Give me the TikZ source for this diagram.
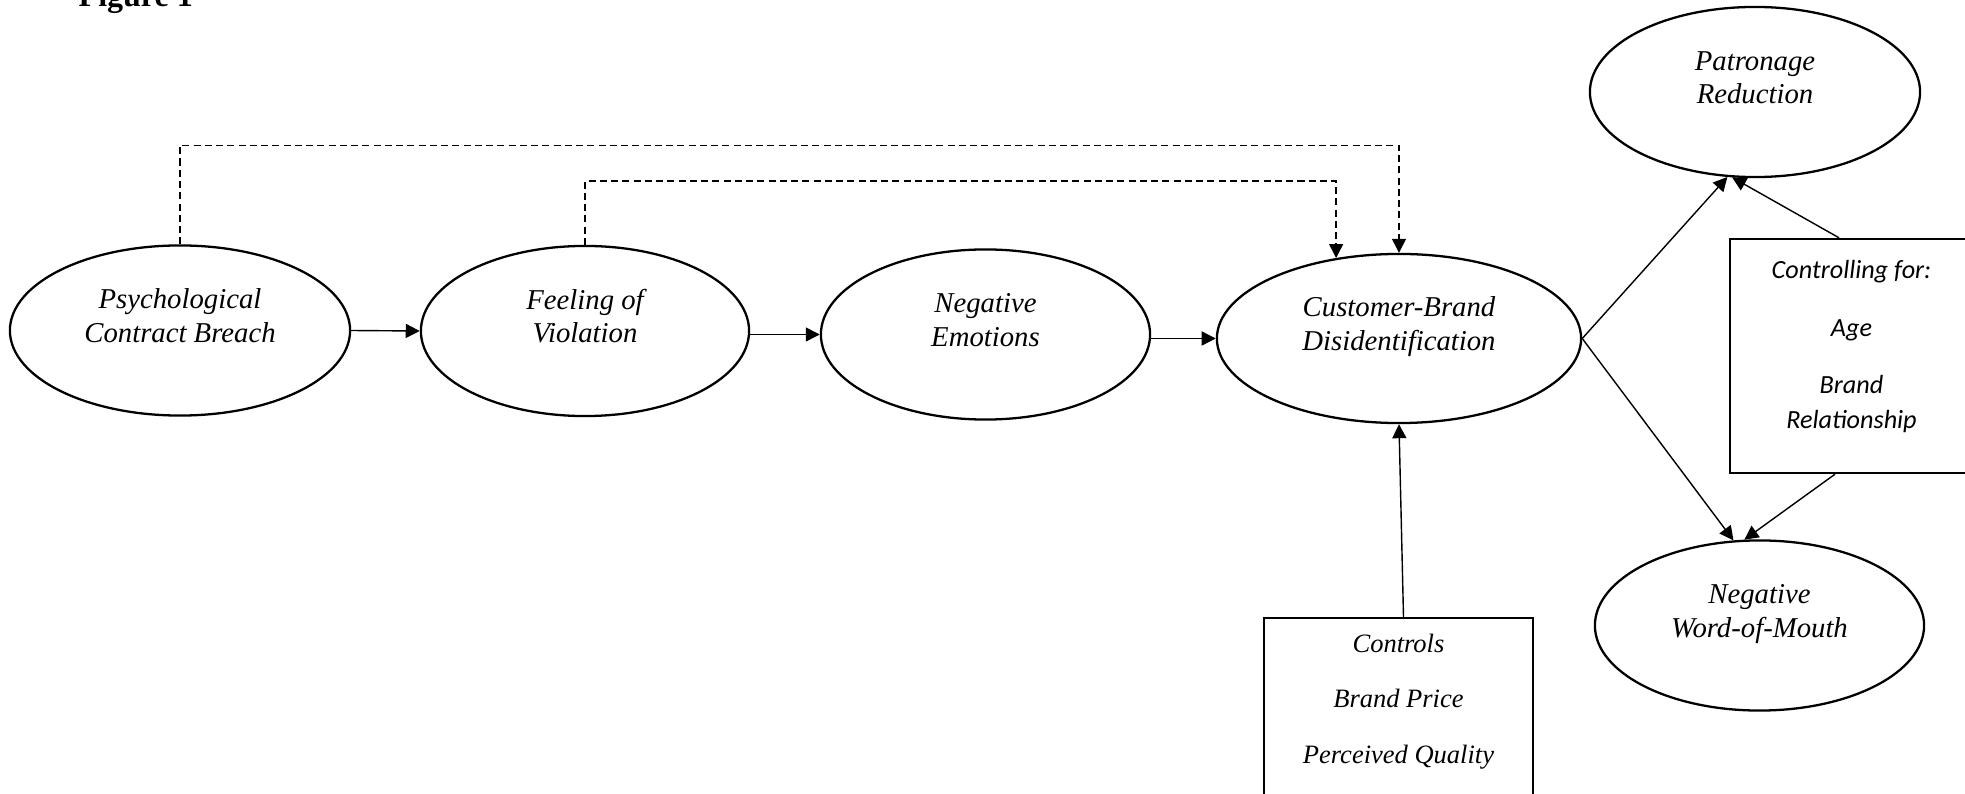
\documentclass[tikz,border=0pt]{standalone}
\usepackage{fontspec}
\setmainfont{Liberation Serif}
\newfontfamily\calibrifont{Carlito}
\usepackage{tikz}
\usetikzlibrary{positioning, arrows.meta, shapes.geometric}

\begin{document}
\begin{tikzpicture}[x=0.01cm, y=-0.01cm,
  construct/.style={draw, ellipse, line width=0.65pt, inner sep=0pt, minimum width=3.28cm, minimum height=1.7cm,
    align=center, font=\itshape\fontsize{8.17pt}{9.39pt}\selectfont, text height=0.23cm, text depth=0pt},
  controlbox/.style={draw, rectangle, line width=0.65pt, inner sep=0pt, align=center},
  link/.style={-{Triangle[length=0.14cm, width=0.14cm]}, line width=0.4pt},
  indirect/.style={link, dash pattern=on 2pt off 1.2pt}]
\useasboundingbox (0,0) rectangle (1965,794);
% Title
\node[font=\bfseries\fontsize{9.1pt}{11pt}\selectfont, anchor=base west, inner sep=0pt] (figtitle) at (78,7) {Figure 1};
% Constructs
\node[construct, minimum width=3.4cm] (breach) at (180,330.5) {Psychological\\Contract Breach};
\node[construct] (violation) at (585,331) {Feeling of\\Violation};
\node[construct, minimum width=3.29cm] (emotions) at (985.5,334.5) {Negative\\Emotions};
\node[construct, minimum width=3.64cm, minimum height=1.69cm] (disid) at (1399,338.5) {Customer-Brand\\Disidentification};
\node[construct, minimum width=3.3cm] (patronage) at (1755,92) {Patronage\\Reduction};
\node[construct, minimum width=3.29cm] (wom) at (1759.5,625.5) {Negative\\Word-of-Mouth};
% Controls
\node[controlbox, minimum width=2.43cm, minimum height=2.34cm, text height=1.44cm, text depth=0pt,
  font=\calibrifont\itshape\fontsize{7.45pt}{9.96pt}\selectfont] (covariates) at (1851.5,356)
  {Controlling for:\\[6.4pt]Age\\[6.2pt]Brand\\Relationship};
\node[controlbox, minimum width=2.69cm, minimum height=2.02cm, text height=0.88cm, text depth=0pt,
  font=\itshape\fontsize{7.54pt}{15.65pt}\selectfont] (controls) at (1398.5,719)
  {Controls\\Brand Price\\Perceived Quality};
% Direct paths
\draw[link] (breach.east) -- (violation.west);
\draw[link] (violation.east |- emotions.west) -- (emotions.west);
\draw[link] (emotions.east |- disid.west) -- (disid.west);
\draw[link] (disid.east) -- (patronage.252);
\draw[link] (disid.east) -- (wom.107);
% Indirect paths
\draw[indirect] (breach.north) -- ++(0,-99) -| (disid.north);
\draw[indirect] (violation.north) -- ++(0,-64) -| (disid.128.5);
% Control paths
\draw[link] ([xshift=0.05cm]controls.north) -- (disid.south);
\draw[link] ([xshift=-0.125cm]covariates.north) -- (patronage.255);
\draw[link] ([xshift=-0.165cm]covariates.south) -- (wom.100);
\end{tikzpicture}
\end{document}
